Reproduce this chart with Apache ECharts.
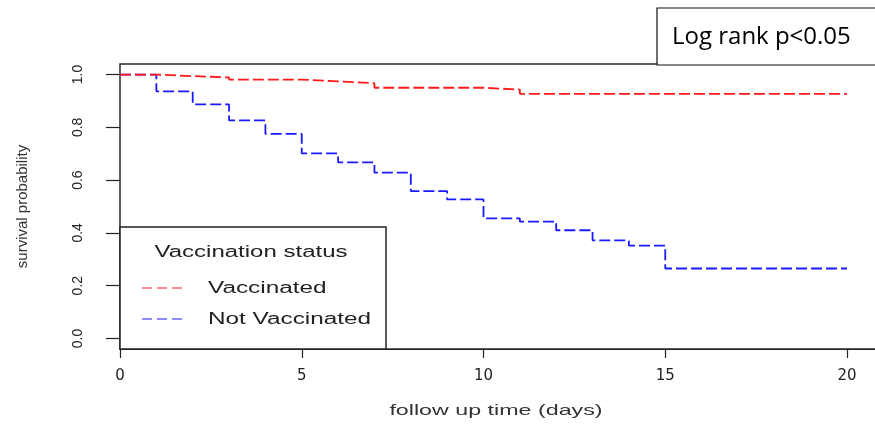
<!DOCTYPE html>
<html>
<head>
<meta charset="utf-8">
<script src="https://cdn.jsdelivr.net/npm/echarts@6/dist/echarts.min.js"></script>
<style>
html,body{margin:0;padding:0;background:#fff;}
#chart{width:875px;height:426px;}
</style>
</head>
<body>
<div id="chart"></div>
<script>
// ---- data ----
const vaccinatedTimes = [0, 1, 2, 3, 5, 6, 7, 10, 11, 20];
const vaccinatedSurv  = [1.0, 0.994, 0.989, 0.981, 0.974, 0.967, 0.950, 0.943, 0.927, 0.927];
const notVaccTimes = [0, 1, 2, 3, 4, 5, 6, 7, 8, 9, 10, 11, 12, 13, 14, 15, 20];
const notVaccSurv  = [1.0, 0.936, 0.887, 0.826, 0.775, 0.701, 0.667, 0.628, 0.558, 0.527, 0.455, 0.443, 0.410, 0.372, 0.352, 0.265, 0.265];
const xTicks = [0, 5, 10, 15, 20];
const yTicks = [0, 0.2, 0.4, 0.6, 0.8, 1.0];
const seriesNames = ['Vaccinated', 'Not Vaccinated'];
const legendTitle = 'Vaccination status';
const xTitle = 'follow up time (days)';
const yTitle = 'survival probability';
const noteText = 'Log rank p<0.05';

const toPairs = (xs, ys) => xs.map((x, i) => [x, ys[i]]);

const chart = echarts.init(document.getElementById('chart'), null, {renderer: 'canvas'});
const txtCol = '#222';
chart.setOption({
  animation: false,
  backgroundColor: '#fff',
  grid: {
    left: 120, top: 64, bottom: 77, width: 21 * 36.35,
    outerBoundsMode: 'none',
    show: true, borderColor: '#2a2a2a', borderWidth: 1.5, backgroundColor: 'transparent',
    containLabel: false
  },
  xAxis: {
    type: 'value', min: 0, max: 21,
    axisLine: {show: true, onZero: false, lineStyle: {color: '#222', width: 1.2}},
    axisTick: {show: true, length: 9, customValues: xTicks, lineStyle: {color: '#222', width: 1.2}},
    axisLabel: {customValues: xTicks, margin: 20, fontSize: 15, fontFamily: 'DejaVu Sans', color: txtCol},
    splitLine: {show: false}
  },
  yAxis: {
    type: 'value', min: -0.04, max: 1.04,
    name: yTitle, nameLocation: 'middle', nameRotate: 90, nameGap: 90,
    nameTextStyle: {fontSize: 15, fontFamily: 'Liberation Sans', color: '#333'},
    axisLine: {show: false},
    axisTick: {show: true, length: 14, customValues: yTicks, lineStyle: {color: '#222', width: 1.2}},
    axisLabel: {customValues: yTicks, rotate: 90, margin: 35, fontSize: 14, fontFamily: 'Liberation Sans', color: txtCol,
      formatter: v => v.toFixed(1)},
    splitLine: {show: false}
  },
  series: [
    {
      name: seriesNames[0], type: 'line', step: 'end', symbol: 'none',
      data: toPairs(vaccinatedTimes, vaccinatedSurv),
      lineStyle: {color: '#ff1a1a', width: 1.8, type: [11, 4]}, z: 3
    },
    {
      name: seriesNames[1], type: 'line', step: 'end', symbol: 'none',
      data: toPairs(notVaccTimes, notVaccSurv),
      lineStyle: {color: '#1a1aff', width: 1.8, type: [11, 4]}, z: 2
    }
  ],
  graphic: [
    // legend box
    {type: 'rect', shape: {x: 120, y: 227, width: 266, height: 122},
      style: {fill: '#fff', stroke: '#222', lineWidth: 1.5}, z: 10},
    {type: 'text', x: 251, y: 253, scaleX: 1.5,
      style: {x: 0, y: 0, text: legendTitle, align: 'center', verticalAlign: 'middle',
        font: '16px "Liberation Sans"', fill: txtCol}, z: 11},
    {type: 'line', shape: {x1: 142, y1: 288, x2: 186, y2: 288},
      style: {stroke: '#ff1a1a', lineWidth: 1.2, lineDash: [10, 5]}, z: 11},
    {type: 'line', shape: {x1: 142, y1: 319, x2: 186, y2: 319},
      style: {stroke: '#1a1aff', lineWidth: 1.2, lineDash: [10, 5]}, z: 11},
    {type: 'text', x: 208, y: 289, scaleX: 1.52,
      style: {x: 0, y: 0, text: seriesNames[0], align: 'left', verticalAlign: 'middle',
        font: '16px "Liberation Sans"', fill: txtCol}, z: 11},
    {type: 'text', x: 208, y: 320, scaleX: 1.52,
      style: {x: 0, y: 0, text: seriesNames[1], align: 'left', verticalAlign: 'middle',
        font: '16px "Liberation Sans"', fill: txtCol}, z: 11},
    // x axis title
    {type: 'text', x: 496, y: 411, scaleX: 1.55,
      style: {x: 0, y: 0, text: xTitle, align: 'center', verticalAlign: 'middle',
        font: '15px "Liberation Sans"', fill: '#333'}, z: 11},
    // annotation box
    {type: 'rect', shape: {x: 657, y: 8, width: 230, height: 57},
      style: {fill: '#fff', stroke: '#111', lineWidth: 1.2}, z: 10},
    {type: 'text', x: 672, y: 37,
      style: {x: 0, y: 0, text: noteText, align: 'left', verticalAlign: 'middle',
        font: '24px "Open Sans"', fill: '#000'}, z: 11}
  ]
});
</script>
</body>
</html>
